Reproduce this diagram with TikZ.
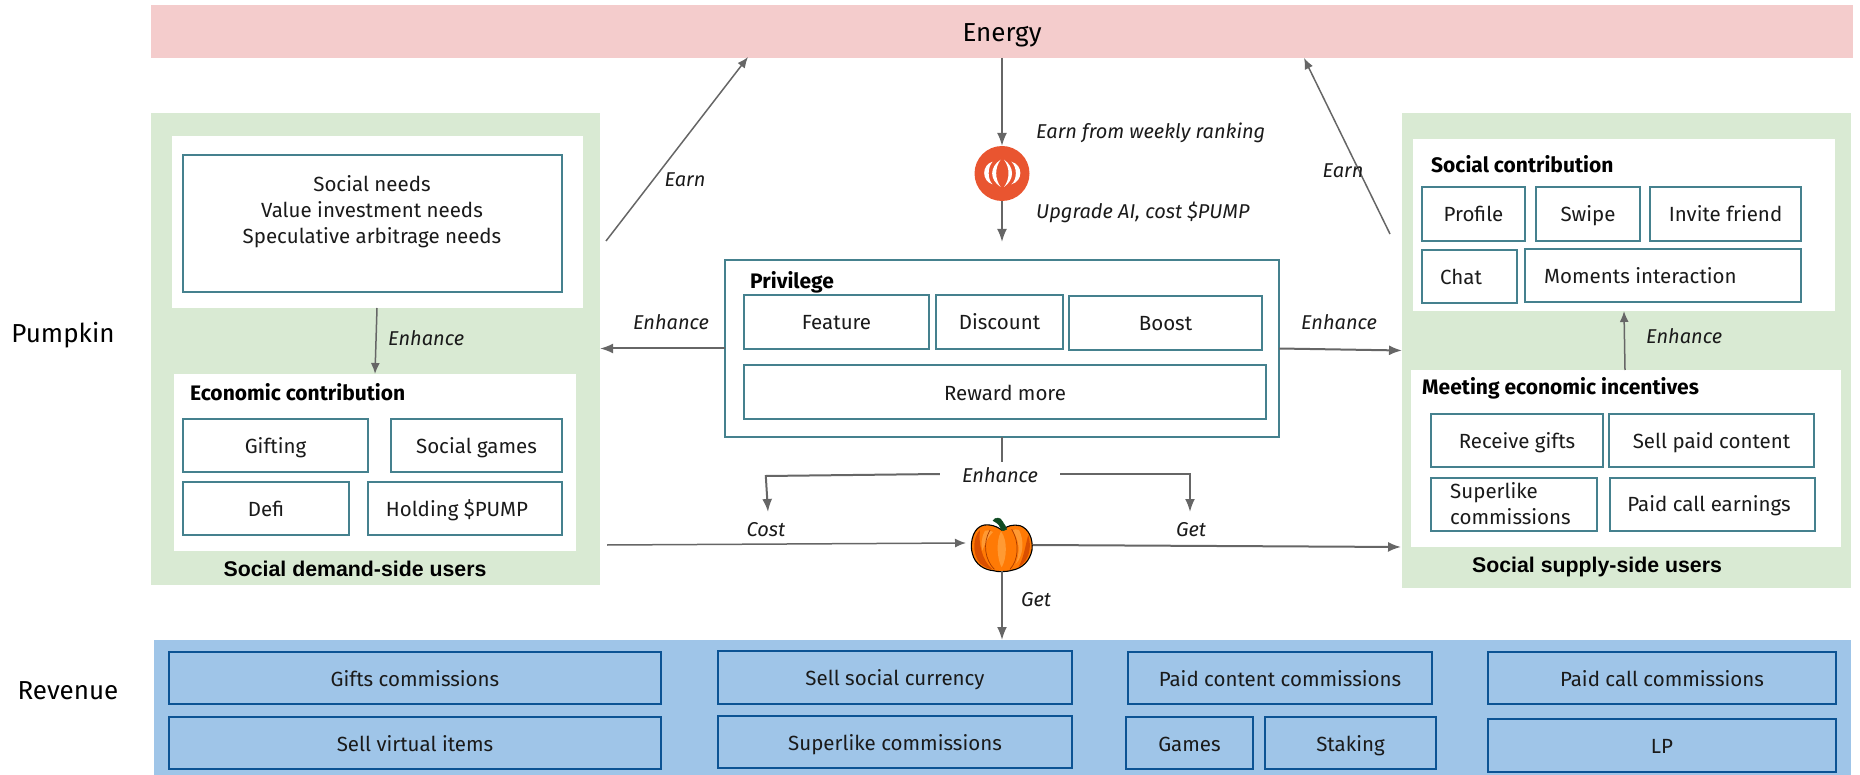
\documentclass[tikz,border=0pt]{standalone}
\usepackage{fontspec}
\setmainfont{Fira Sans}
\newfontfamily\arialbold{Liberation Sans}[BoldFont={Liberation Sans Bold}]
\usetikzlibrary{arrows.meta,calc}
\definecolor{pinkband}{HTML}{F4CCCC}
\definecolor{greenband}{HTML}{D9EAD3}
\definecolor{blueband}{HTML}{9FC5E8}
\definecolor{tealline}{HTML}{45818E}
\definecolor{navyline}{HTML}{0B5394}
\definecolor{linkgrey}{HTML}{666666}
\definecolor{inktext}{HTML}{1A1A1A}
\definecolor{coinred}{HTML}{E95530}
\definecolor{pumpbody}{HTML}{FF7A05}
\definecolor{pumplight}{HTML}{FF9A33}
\definecolor{pumpdark}{HTML}{D94F00}
\definecolor{pumprib}{HTML}{A83A00}
\definecolor{pumpstem}{HTML}{0F4A22}
\newcommand{\fs}[1]{\fontsize{#1}{#1}\selectfont}
\tikzset{
  x=1pt,y=-1pt,
  tx/.style={text height=20pt,text depth=4pt},
  band/.style={draw=none,inner sep=0pt,outer sep=0pt},
  panel/.style={draw=none,fill=white,inner sep=0pt,outer sep=0pt},
  tbox/.style={draw=tealline,line width=2pt,fill=white,inner sep=0pt,outer sep=0pt,text=inktext,font=\fs{20.5},align=center,tx},
  rbox/.style={draw=navyline,line width=2pt,fill=blueband,inner sep=0pt,outer sep=0pt,text=inktext,font=\fs{20.5},align=center,tx},
  title/.style={anchor=west,inner sep=0pt,font=\fs{21}\bfseries,text=black,tx},
  sidetitle/.style={inner sep=0pt,font=\arialbold\fs{21.3}\bfseries,text=black,tx},
  biglabel/.style={inner sep=0pt,font=\fs{26},text=black,text height=24pt,text depth=4pt},
  plaintxt/.style={inner sep=0pt,font=\fs{20.5},text=inktext},
  lnk/.style={inner sep=0pt,font=\fs{20}\itshape,text=inktext,tx},
  conn/.style={draw=linkgrey,line width=2pt,-{Latex[length=13pt,width=10pt]}},
  thinconn/.style={draw=linkgrey,line width=1.5pt,-{Latex[length=11pt,width=9pt]}},
  plain/.style={draw=linkgrey,line width=2pt},
}
\newcommand{\bx}[7][]{% [opts]{name}{x1}{y1}{x2}{y2}{text}
  \pgfmathsetmacro{\cxx}{(#3+#5)/2}\pgfmathsetmacro{\cyy}{(#4+#6)/2}
  \pgfmathsetmacro{\www}{#5-#3}\pgfmathsetmacro{\hhh}{#6-#4}
  \node[#1,minimum width=\www pt,minimum height=\hhh pt] (#2) at (\cxx,\cyy) {#7};}
\begin{document}
\begin{tikzpicture}
\useasboundingbox (0,0) rectangle (1860,775);
% bands
\bx[band,fill=pinkband]{energy}{151}{5}{1853}{58}{}
\bx[band,fill=greenband]{demand}{151}{113}{600}{585}{}
\bx[band,fill=greenband]{supply}{1402}{113}{1851}{588}{}
\bx[band,fill=blueband]{revenue}{154}{640}{1851}{775}{}
\node[biglabel] (energytxt) at (1002,32) {Energy};
\node[biglabel] (pumpkinlab) at (63,333) {Pumpkin};
\node[biglabel] (revenuelab) at (68,689) {Revenue};
% left panels
\bx[panel]{needspanel}{172}{136}{583}{308}{}
\bx[tbox]{needs}{183}{155}{562}{292}{}
\node[plaintxt,align=center] (needstxt) at (372,212) {Social needs\\[5.5pt]Value investment needs\\[5.5pt]Speculative arbitrage needs};
\bx[panel]{econ}{174}{374}{576}{551}{}
\node[title] (econtitle) at (190,392) {Economic contribution};
\bx[tbox]{gifting}{183}{419}{368}{472}{Gifting}
\bx[tbox]{games}{391}{419}{562}{472}{Social games}
\bx[tbox]{defi}{183}{482}{349}{535}{Defi}
\bx[tbox]{holding}{368}{482}{562}{535}{}
\node[plaintxt,tx] (holdingtxt) at (457,508) {Holding \$PUMP};
\node[sidetitle] (demandtxt) at (355,568) {Social demand-side users};
% privilege
\bx[tbox]{priv}{725}{260}{1279}{437}{}
\node[title] (privtitle) at (750,281) {Privilege};
\bx[tbox]{feature}{744}{295}{929}{349}{Feature}
\bx[tbox]{discount}{936}{295}{1063}{349}{Discount}
\bx[tbox]{boost}{1069}{296}{1262}{350}{Boost}
\bx[tbox]{reward}{744}{365}{1266}{419}{Reward more}
% right panels
\bx[panel]{socialpanel}{1413}{139}{1835}{311}{}
\node[title] (socialtitle) at (1431,165) {Social contribution};
\bx[tbox]{profile}{1422}{187}{1525}{241}{Profile}
\bx[tbox]{swipe}{1536}{187}{1640}{241}{Swipe}
\bx[tbox]{invite}{1650}{187}{1801}{241}{Invite friend}
\bx[tbox]{chat}{1422}{250}{1517}{303}{}
\node[plaintxt,tx] (chattxt) at (1461,277) {Chat};
\bx[tbox]{moments}{1525}{249}{1801}{302}{}
\node[plaintxt,anchor=west,tx] (momentstxt) at (1544,276) {Moments interaction};
\bx[panel]{incent}{1411}{370}{1841}{547}{}
\node[title] (incenttitle) at (1422,387) {Meeting economic incentives};
\bx[tbox]{gifts}{1431}{414}{1603}{467}{Receive gifts}
\bx[tbox]{paidc}{1609}{414}{1814}{467}{Sell paid content}
\bx[tbox]{superl}{1431}{478}{1597}{531}{}
\node[plaintxt,anchor=west,align=left] (superltxt) at (1450,504) {Superlike\\[5.5pt]commissions};
\bx[tbox]{callearn}{1610}{478}{1815}{531}{}
\node[plaintxt,tx] (callearntxt) at (1709,503) {Paid call earnings};
\node[sidetitle] (supplytxt) at (1597,564) {Social supply-side users};
% revenue boxes
\bx[rbox]{r1}{169}{652}{661}{704}{Gifts commissions}
\bx[rbox]{r2}{169}{717}{661}{769}{Sell virtual items}
\bx[rbox]{r3}{718}{651}{1072}{704}{Sell social currency}
\bx[rbox]{r4}{718}{716}{1072}{768}{Superlike commissions}
\bx[rbox]{r5}{1128}{652}{1432}{704}{Paid content commissions}
\bx[rbox]{r6}{1126}{717}{1253}{769}{Games}
\bx[rbox]{r7}{1265}{717}{1436}{769}{Staking}
\bx[rbox]{r8}{1488}{652}{1836}{704}{Paid call commissions}
\bx[rbox]{r9}{1488}{719}{1836}{772}{LP}
% coin
\node[circle,fill=coinred,draw=none,minimum size=55pt,inner sep=0pt,outer sep=0pt] (coin) at (1002,173.5) {};
\begin{scope}[shift={(972,143)},scale=1/3]
  \fill[white] (62,56) .. controls (28,66) and (28,114) .. (62,124) .. controls (46,110) and (46,72) .. (62,56) -- cycle;
  \fill[white] (86,50) .. controls (52,72) and (52,110) .. (86,132) .. controls (68,108) and (68,74) .. (86,50) -- cycle;
  \fill[white] (96,50) .. controls (128,72) and (128,110) .. (96,132) .. controls (114,108) and (114,74) .. (96,50) -- cycle;
  \fill[white] (118,56) .. controls (154,66) and (154,114) .. (118,124) .. controls (136,110) and (136,72) .. (118,56) -- cycle;
\end{scope}
% pumpkin
\node[minimum width=62pt,minimum height=54pt,inner sep=0pt,outer sep=0pt] (pump) at (1002,544) {};
\begin{scope}[shift={(965,510)},scale=1/3]
  \filldraw[fill=pumpbody,draw=black,line width=1.1pt]
    (110,60) .. controls (90,44) and (60,40) .. (45,50)
    .. controls (22,62) and (14,105) .. (22,130)
    .. controls (30,165) and (60,180) .. (85,182)
    .. controls (95,186) and (125,186) .. (140,181)
    .. controls (175,175) and (195,150) .. (201,120)
    .. controls (205,85) and (190,55) .. (165,47)
    .. controls (145,42) and (125,48) .. (110,60) -- cycle;
  \fill[pumpdark] (45,60) .. controls (24,80) and (20,130) .. (45,160) .. controls (60,172) and (70,176) .. (82,178) .. controls (50,150) and (40,100) .. (45,60) -- cycle;
  \fill[pumpdark] (190,75) .. controls (200,110) and (195,150) .. (160,172) .. controls (178,140) and (182,100) .. (190,75) -- cycle;
  \fill[pumplight] (108,64) .. controls (92,95) and (97,150) .. (110,172) .. controls (126,145) and (128,90) .. (108,64) -- cycle;
  \fill[pumplight] (60,62) .. controls (48,85) and (48,105) .. (52,122) .. controls (60,100) and (70,80) .. (84,66) .. controls (76,60) and (68,60) .. (60,62) -- cycle;
  \fill[pumplight] (142,62) .. controls (165,90) and (165,130) .. (152,162) .. controls (176,138) and (178,90) .. (162,60) .. controls (155,56) and (147,58) .. (142,62) -- cycle;
  \draw[pumprib,line width=.7pt] (88,178) .. controls (60,150) and (52,100) .. (75,60);
  \draw[pumprib,line width=.7pt] (135,178) .. controls (160,150) and (165,100) .. (140,58);
  \filldraw[fill=pumpstem,draw=pumpstem] (84,32) .. controls (90,20) and (108,22) .. (112,34) .. controls (118,44) and (124,50) .. (125,58) .. controls (118,64) and (112,62) .. (108,60) .. controls (106,48) and (100,40) .. (84,32) -- cycle;
\end{scope}
% connector end points
\coordinate (a1s) at (606,241); \coordinate (a1e) at (748,57);
\coordinate (a2s) at (1390,234); \coordinate (a2e) at (1304,58);
\coordinate (c1) at (1002,242);
\coordinate (n1s) at (377,308); \coordinate (n1e) at (375,374);
\coordinate (n2s) at (1625,370); \coordinate (n2e) at (1624,311);
\coordinate (pl) at (725,348.5); \coordinate (pl2) at (600,348.5);
\coordinate (pr) at (1279,348.5); \coordinate (pr2) at (1402,350.5);
\coordinate (cost) at (768,512); \coordinate (get) at (1190,512);
\coordinate (cs) at (607,545); \coordinate (ce) at (966,543);
\coordinate (gs) at (1033,545); \coordinate (ge) at (1401,547);
% connectors
\draw[thinconn] (a1s) -- (a1e);
\draw[thinconn] (a2s) -- (a2e);
\draw[conn] (energy.south -| coin) -- (coin.north);
\draw[conn] (coin.south) -- (c1);
\draw[thinconn] (n1s) -- (n1e);
\draw[thinconn] (n2s) -- (n2e);
\draw[conn] (pl) -- (pl2);
\draw[conn] (pr) -- (pr2);
\node[inner sep=0pt,minimum width=120pt,font=\fs{20}\itshape,text=inktext,fill=white,tx] (enh) at (1000,474) {Enhance};
\draw[plain] (priv.south -| coin) -- (enh.north -| coin);
\draw[conn] (enh.west) -- ++(-174,2) -- (cost);
\draw[conn] (enh.east) -| (get);
\draw[thinconn] (cs) -- (ce);
\draw[conn] (gs) -- (ge);
\draw[conn] (pump.south) -- (revenue.north -| pump);
% link labels
\node[lnk] (t1) at (685,179) {Earn};
\node[lnk] (t2) at (1343,170) {Earn};
\node[lnk,anchor=west] (t3) at (1036,131) {Earn from weekly ranking};
\node[lnk,anchor=west] (t4) at (1036,211) {Upgrade AI, cost \$PUMP};
\node[lnk,anchor=west] (t5) at (388,337) {Enhance};
\node[lnk] (t6) at (671,322) {Enhance};
\node[lnk] (t7) at (1339,322) {Enhance};
\node[lnk,anchor=west] (t8) at (1646,336) {Enhance};
\node[lnk] (t9) at (766,528) {Cost};
\node[lnk] (t10) at (1191,528) {Get};
\node[lnk] (t11) at (1036,598) {Get};
\end{tikzpicture}
\end{document}
